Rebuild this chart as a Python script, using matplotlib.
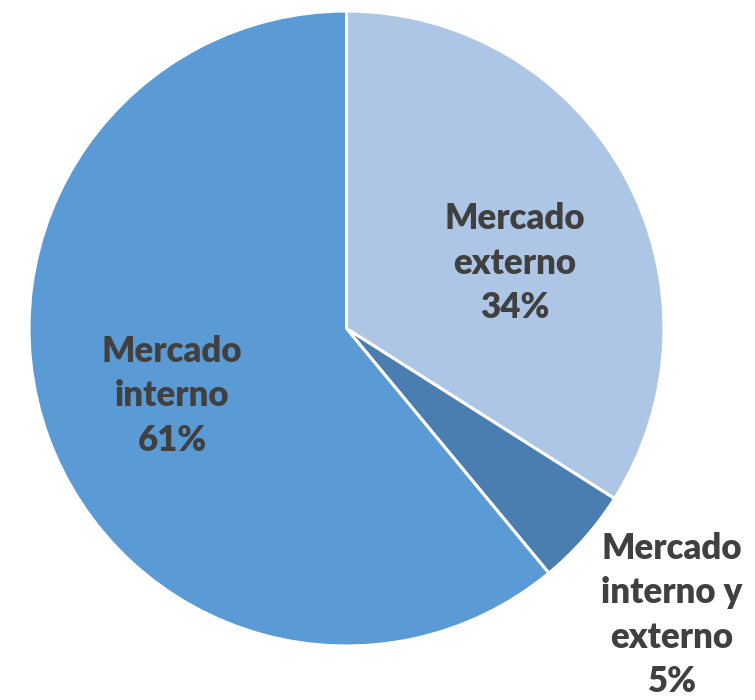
import matplotlib.pyplot as plt

# slice data, clockwise from the top
labels = ["Mercado\nexterno", "Mercado\ninterno y\nexterno", "Mercado\ninterno"]
shares = [34, 5, 61]
colors = ["#adc6e6", "#4a7eb0", "#5b9bd5"]

# label anchor positions (pixels, y from top)
label_pos = [(515, 263), (672, 615), (172, 396)]

plt.rcParams["font.family"] = ["Lato", "DejaVu Sans"]

W, H = 755, 700
fig = plt.figure(figsize=(W / 100, H / 100), dpi=100)
ax = fig.add_axes([0, 0, 1, 1])

cx, cy, r = 346.5, H - 328.5, 317.5
ax.pie(shares, colors=colors, startangle=90, counterclock=False,
       center=(cx, cy), radius=r,
       wedgeprops=dict(edgecolor="white", linewidth=2.2))

for lab, val, (x, y) in zip(labels, shares, label_pos):
    ax.text(x, H - y, f"{lab}\n{val}%", ha="center", va="center",
            fontsize=25, fontweight="heavy", color="#404040", linespacing=1.42)

ax.set_xlim(0, W)
ax.set_ylim(0, H)
ax.set_aspect("equal")
ax.set_axis_off()

fig.savefig("out.png", dpi=100)
